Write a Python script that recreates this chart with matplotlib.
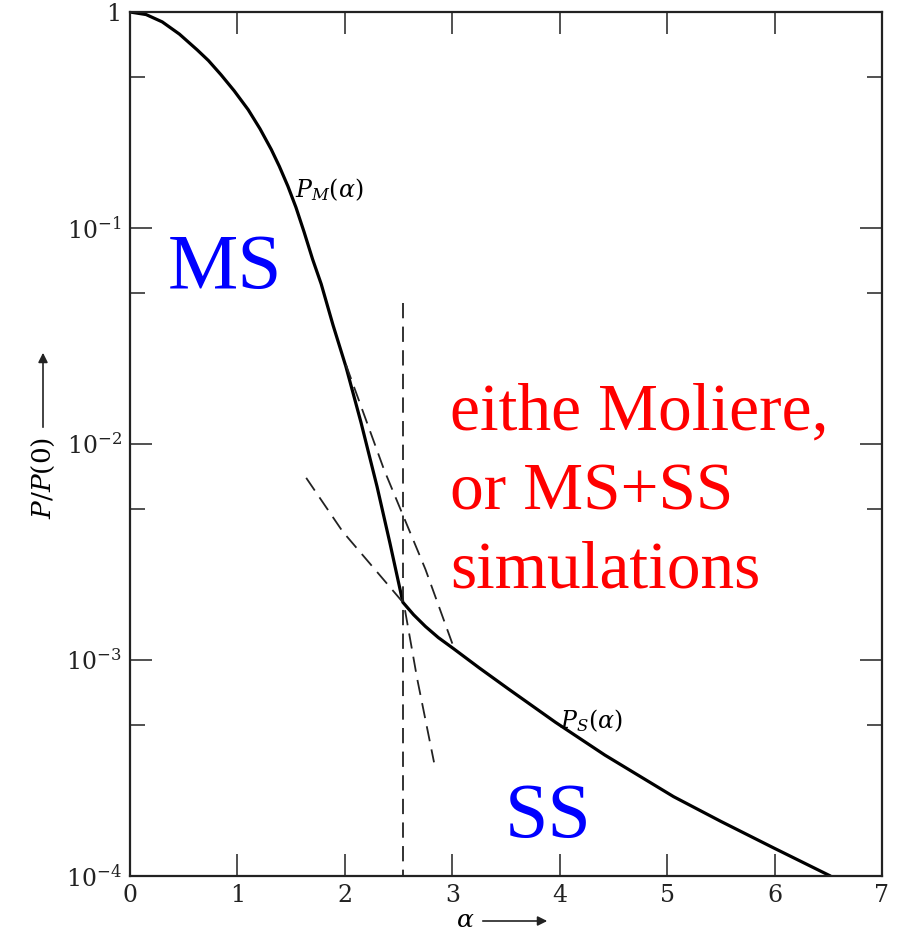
import matplotlib
matplotlib.use("Agg")
import matplotlib.pyplot as plt
from matplotlib.ticker import FixedLocator, NullFormatter

plt.rcParams["mathtext.fontset"] = "dejavuserif"
plt.rcParams["font.family"] = "DejaVu Serif"
plt.rcParams["lines.scale_dashes"] = False

# solid curve: multiple scattering core joined to the single scattering tail
alpha = [0.0, 0.15, 0.30, 0.46, 0.625, 0.73, 0.846, 0.97, 1.10, 1.21, 1.315, 1.39, 1.47,
         1.545, 1.62, 1.70, 1.78, 1.89, 2.01, 2.15, 2.30, 2.42, 2.54,
         2.64, 2.75, 2.87, 3.01, 3.25, 3.52, 3.96, 4.42, 5.06, 5.50, 5.99, 6.52]
p_ratio = [1.0, 0.973, 0.90, 0.79, 0.668, 0.596, 0.513, 0.4315, 0.353, 0.288, 0.231, 0.193, 0.156,
           0.1245, 0.096, 0.0716, 0.055, 0.0355, 0.0228, 0.0126, 0.00634, 0.00347, 0.00185,
           0.00162, 0.00143, 0.00127, 0.00113, 9.2e-4, 7.36e-4, 5.15e-4, 3.63e-4, 2.33e-4,
           1.79e-4, 1.35e-4, 1.0e-4]

# dashed construction lines
cut_x = [2.54, 2.54]
cut_y = [0.045, 1e-4]
upper_x = [2.01, 2.365, 2.75, 3.02]
upper_y = [0.0233, 0.0076, 0.00263, 0.00112]
single_x = [1.64, 1.98, 2.54]
single_y = [0.00697, 0.00393, 0.00185]
gauss_x = [2.56, 2.673, 2.83]
gauss_y = [0.0017, 8.2e-4, 3.36e-4]

x_ticks = [0, 1, 2, 3, 4, 5, 6, 7]
y_ticks = [1e-4, 1e-3, 1e-2, 1e-1, 1]
y_labels = ["$10^{-4}$", "$10^{-3}$", "$10^{-2}$", "$10^{-1}$", "1"]
y_minor = [5e-4, 5e-3, 5e-2, 5e-1]

W, H = 904, 932
fig = plt.figure(figsize=(W / 100, H / 100), dpi=100)
ax = fig.add_axes([130 / W, 1 - 876 / H, (882 - 130) / W, (876 - 12) / H])


def fx(px):
    return px / W


def fy(py):
    return 1 - py / H


ax.plot(alpha, p_ratio, color="black", lw=2.3, solid_joinstyle="round", solid_capstyle="round")
dash = (0, (11, 6))
for xs, ys in [(cut_x, cut_y), (upper_x, upper_y), (single_x, single_y), (gauss_x, gauss_y)]:
    ax.plot(xs, ys, color="#222222", lw=1.3, linestyle=dash)

ax.set_yscale("log")
ax.set_xlim(0, 7)
ax.set_ylim(1e-4, 1)
ax.set_xticks(x_ticks)
ax.set_xticklabels([str(t) for t in x_ticks])
ax.yaxis.set_major_locator(FixedLocator(y_ticks))
ax.set_yticklabels(y_labels)
ax.yaxis.set_minor_locator(FixedLocator(y_minor))
ax.yaxis.set_minor_formatter(NullFormatter())
ax.tick_params(which="both", direction="in", top=True, right=True, width=1.1, colors="#222222")
ax.tick_params(which="major", length=16, labelsize=17, pad=6)
ax.tick_params(which="minor", length=11)
for s in ax.spines.values():
    s.set_linewidth(1.6)
    s.set_color("#222222")

# curve labels
fig.text(fx(295), fy(197), r"$P_M(\alpha)$", fontsize=17, ha="left", va="baseline")
fig.text(fx(560), fy(728), r"$P_S(\alpha)$", fontsize=17, ha="left", va="baseline")

# region labels
fig.text(fx(168), fy(288), "MS", family="Liberation Serif", fontsize=57, color="#0000ff",
         ha="left", va="baseline")
fig.text(fx(505), fy(837), "SS", family="Liberation Serif", fontsize=56, color="#0000ff",
         ha="left", va="baseline")
for line, base in [("eithe Moliere,", 430), ("or MS+SS", 510), ("simulations", 587)]:
    fig.text(fx(450), fy(base), line, family="Liberation Serif", fontsize=48.5, color="#ff0000",
             ha="left", va="baseline")

# axis labels with arrows
fig.text(fx(43), fy(478), "$P/P(0)$", fontsize=19, rotation=90, ha="center", va="center")
ax.annotate("", xy=(fx(43), fy(350)), xytext=(fx(43), fy(430)), xycoords="figure fraction",
            arrowprops=dict(arrowstyle="-|>", color="#222222", lw=1.2, mutation_scale=14))
fig.text(fx(465), fy(927), r"$\alpha$", fontsize=18, ha="center", va="baseline")
ax.annotate("", xy=(fx(550), fy(921)), xytext=(fx(480), fy(921)), xycoords="figure fraction",
            arrowprops=dict(arrowstyle="-|>", color="#222222", lw=1.2, mutation_scale=14))

fig.savefig("out.png", dpi=100)
